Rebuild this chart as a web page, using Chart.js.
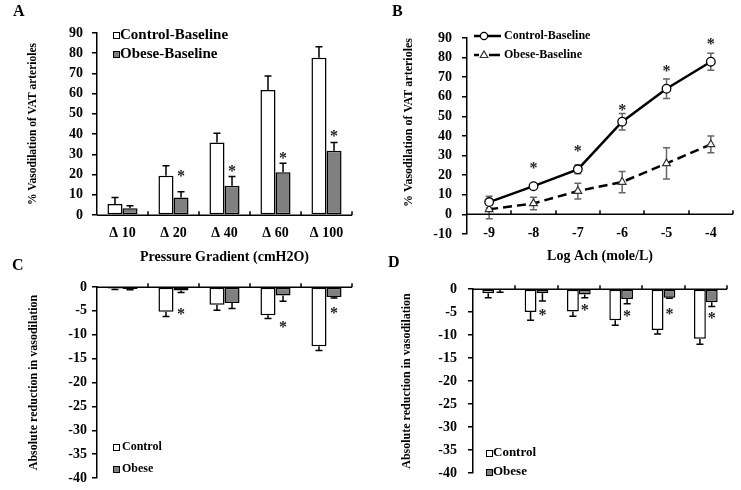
<!DOCTYPE html>
<html><head><meta charset="utf-8">
<script src="https://cdn.jsdelivr.net/npm/chart.js@4.4.1/dist/chart.umd.min.js"></script>
<style>
html,body{margin:0;padding:0;background:#fff;}
#wrap{position:relative;width:741px;height:490px;overflow:hidden;background:#fff;}
canvas{position:absolute;}
.lbl{position:absolute;font:bold 16px 'Liberation Serif','Times New Roman',serif;line-height:16px;color:#000;}
</style></head><body>
<div id="wrap">
<canvas id="cA" width="370" height="270" style="left:0;top:0"></canvas>
<canvas id="cB" width="371" height="270" style="left:370px;top:0"></canvas>
<canvas id="cC" width="370" height="220" style="left:0;top:270px"></canvas>
<canvas id="cD" width="371" height="221" style="left:370px;top:270px"></canvas>
<div class="lbl" style="left:13px;top:3px">A</div>
<div class="lbl" style="left:392px;top:3px">B</div>
<div class="lbl" style="left:12px;top:257px">C</div>
<div class="lbl" style="left:388px;top:254px">D</div>
</div>
<script>
// ---------- data ----------
const pressureLabels = ['Δ 10', 'Δ 20', 'Δ 40', 'Δ 60', 'Δ 100'];
const achLabels = ['-9', '-8', '-7', '-6', '-5', '-4'];

const aControl = [5.4, 19.4, 35.8, 61.8, 77.8];
const aControlErr = [3.2, 5.0, 4.6, 6.9, 5.4];
const aObese = [3.3, 8.6, 14.5, 21.1, 31.8];
const aObeseErr = [1.3, 2.9, 4.5, 4.5, 4.1];
const aStars = [null, 20.7, 23.1, 29.7, 40.6];

const bControl = [6.3, 14.4, 23.0, 47.3, 64.1, 77.9];
const bControlErr = [3.0, 1.0, 2.2, 4.2, 5.0, 4.3];
const bObese = [2.6, 5.6, 11.9, 16.5, 26.0, 35.7];
const bObeseErr = [4.8, 3.2, 4.0, 5.4, 8.0, 4.3];
const bStars = [null, 25.0, 33.7, 55.0, 74.5, 88.4];

const cControl = [-0.3, -5.2, -3.7, -5.9, -12.4];
const cControlErr = [0.2, 1.0, 1.15, 0.7, 0.9];
const cObese = [-0.4, -0.75, -3.35, -1.8, -2.1];
const cObeseErr = [0.15, 0.4, 1.15, 1.2, 0.2];
const cStars = [null, -5.1, null, -7.8, -4.9];

const dControl = [-0.9, -5.0, -4.9, -6.8, -8.9, -10.8];
const dControlErr = [1.0, 1.8, 1.0, 1.1, 0.9, 1.2];
const dObese = [-0.1, -0.9, -1.2, -2.2, -1.9, -2.9];
const dObeseErr = [0.6, 1.7, 0.7, 1.0, 0.1, 0.9];
const dStars = [null, -5.1, -4.0, -5.2, -4.7, -5.7];

// ---------- styling ----------
const SERIF = "'Liberation Serif', 'Times New Roman', serif";
Chart.defaults.font.family = SERIF;
Chart.defaults.font.weight = 'bold';
Chart.defaults.color = '#000';
const GRAY = '#808080';

const panelPlugin = {
  id: 'panel',
  beforeDatasetsDraw(chart) {
    const o = chart.options.plugins.panel; if (!o) return;
    const ctx = chart.ctx, y = chart.scales.y;
    chart.data.datasets.forEach((ds, di) => {
      if (!ds.errors) return;
      const meta = chart.getDatasetMeta(di);
      ctx.save();
      ctx.strokeStyle = ds.errorColor || '#000';
      ctx.lineWidth = ds.errorWidth || 1.5;
      ctx.setLineDash([]);
      meta.data.forEach((el, i) => {
        const v = ds.data[i], e = ds.errors[i];
        if (e == null) return;
        const px = el.x, cap = ds.errorCap || 3.5;
        let y1, y2;
        if (ds.errorMode === 'both') {
          y1 = y.getPixelForValue(v - e); y2 = y.getPixelForValue(v + e);
        } else {
          y1 = y.getPixelForValue(v); y2 = y.getPixelForValue(v >= 0 ? v + e : v - e);
        }
        ctx.beginPath();
        ctx.moveTo(px, y1); ctx.lineTo(px, y2);
        ctx.moveTo(px - cap, y2); ctx.lineTo(px + cap, y2);
        if (ds.errorMode === 'both') { ctx.moveTo(px - cap, y1); ctx.lineTo(px + cap, y1); }
        ctx.stroke();
      });
      ctx.restore();
    });
  },
  afterDatasetsDraw(chart) {
    const o = chart.options.plugins.panel; if (!o) return;
    const ctx = chart.ctx, x = chart.scales.x, y = chart.scales.y, ca = chart.chartArea;
    ctx.save();
    // zero axis line with category boundary ticks
    const y0 = Math.round(y.getPixelForValue(0)) + 0.25;
    ctx.strokeStyle = '#000'; ctx.lineWidth = 1.5; ctx.setLineDash([]);
    ctx.beginPath(); ctx.moveTo(ca.left, y0); ctx.lineTo(ca.right, y0);
    const n = chart.data.labels.length;
    const w = x.getPixelForValue(1) - x.getPixelForValue(0);
    for (let i = 0; i < n; i++) {
      const bx = Math.round(x.getPixelForValue(i) + w / 2);
      ctx.moveTo(bx, y0); ctx.lineTo(bx, y0 - 4);
    }
    ctx.stroke();
    // significance stars
    if (o.stars) {
      const meta = chart.getDatasetMeta(o.starDataset);
      ctx.fillStyle = '#222'; ctx.font = 'bold 16px ' + SERIF;
      ctx.textAlign = 'center'; ctx.textBaseline = 'alphabetic';
      o.stars.forEach((s, i) => {
        if (s == null) return;
        ctx.fillText('*', meta.data[i].x, y.getPixelForValue(s) + 8);
      });
    }
    // legend
    const lg = o.legend;
    if (lg) {
      chart.data.datasets.forEach((ds, i) => {
        const cy = lg.y + i * lg.dy;
        if (lg.kind === 'box') {
          ctx.fillStyle = ds.backgroundColor; ctx.strokeStyle = '#000'; ctx.lineWidth = 1;
          ctx.fillRect(lg.x, cy - 3, 6, 6);
          ctx.strokeRect(lg.x + 0.5, cy - 2.5, 6, 6);
        } else {
          ctx.strokeStyle = '#000'; ctx.lineWidth = 2.5;
          ctx.beginPath();
          if (ds.borderDash && ds.borderDash.length) {
            ctx.moveTo(lg.x, cy); ctx.lineTo(lg.x + 5, cy);
            ctx.moveTo(lg.x + 15, cy); ctx.lineTo(lg.x + 26, cy);
          } else {
            ctx.moveTo(lg.x, cy); ctx.lineTo(lg.x + 27, cy);
          }
          ctx.stroke();
          const mx = lg.x + 10;
          ctx.fillStyle = '#fff'; ctx.lineWidth = 1.2; ctx.strokeStyle = ds.pointBorderColor || '#000';
          ctx.beginPath();
          if (ds.pointStyle === 'triangle') {
            ctx.moveTo(mx, cy - 4); ctx.lineTo(mx + 3.8, cy + 2.5); ctx.lineTo(mx - 3.8, cy + 2.5); ctx.closePath();
          } else {
            ctx.arc(mx, cy, 3.6, 0, Math.PI * 2);
          }
          ctx.fill(); ctx.stroke();
        }
        ctx.fillStyle = '#000'; ctx.font = 'bold ' + lg.size + 'px ' + SERIF;
        ctx.textAlign = 'left'; ctx.textBaseline = 'middle';
        ctx.fillText(ds.label, lg.textX, cy);
      });
    }
    ctx.restore();
  }
};

function yAxis(min, max, step, title, titlePad, tickPad, width, titleSize, titleAlign) {
  return {
    min, max,
    ticks: { stepSize: step, padding: tickPad, color: '#000', font: { size: 14, weight: 'bold', lineHeight: 1 } },
    grid: { display: true, drawOnChartArea: false, drawTicks: true, tickLength: 5, color: '#000', lineWidth: 1.5 },
    border: { display: true, color: '#000', width: 1.5 },
    title: { display: true, text: title, color: '#000', align: titleAlign || 'center',
             font: { size: titleSize || 12, weight: 'bold' }, padding: { top: titlePad, bottom: 0 } },
    afterFit(s) { s.width = width; }
  };
}
function xAxisShown(title, tickPad, titlePadBottom, height, mirror) {
  return {
    type: 'category', offset: true,
    grid: { display: false, drawTicks: false },
    border: { display: false },
    ticks: { padding: tickPad, mirror: !!mirror, color: '#000', autoSkip: false, maxRotation: 0, font: { size: 14, weight: 'bold' } },
    title: { display: true, text: title, color: '#000', font: { size: 14, weight: 'bold' }, padding: { top: 0, bottom: titlePadBottom } },
    afterFit(s) { s.height = height; }
  };
}
const baseOpts = { responsive: false, animation: false, events: [] };
const barDs = (label, data, errors, fill) => ({
  label, data, errors, backgroundColor: fill, borderColor: '#000', borderWidth: 1.5, borderSkipped: false,
  errorColor: '#000', errorWidth: 1.5, errorCap: 3.5
});

// ---------- A ----------
new Chart(document.getElementById('cA'), {
  type: 'bar',
  data: {
    labels: pressureLabels,
    datasets: [
      barDs('Control-Baseline', aControl, aControlErr, '#ffffff'),
      barDs('Obese-Baseline', aObese, aObeseErr, GRAY)
    ]
  },
  options: Object.assign({}, baseOpts, {
    layout: { padding: { left: 24, right: 18, top: 33, bottom: 0 } },
    datasets: { bar: { categoryPercentage: 0.59, barPercentage: 1 } },
    scales: {
      x: xAxisShown('Pressure Gradient (cmH2O)', 10, 4, 55, false),
      y: yAxis(0, 90, 10, '% Vasodilation of VAT arterioles', 2, 9, 73, 11.5)
    },
    plugins: {
      legend: { display: false }, tooltip: { enabled: false },
      panel: { stars: aStars, starDataset: 1, legend: { kind: 'box', x: 113, textX: 120, y: 35, dy: 19, size: 15 } }
    }
  }),
  plugins: [panelPlugin]
});

// ---------- B ----------
new Chart(document.getElementById('cB'), {
  type: 'line',
  data: {
    labels: achLabels,
    datasets: [
      { label: 'Control-Baseline', data: bControl, errors: bControlErr, errorMode: 'both', errorColor: '#666', errorWidth: 1.5, errorCap: 3.5,
        borderColor: '#000', borderWidth: 2.5, pointStyle: 'circle', pointRadius: 4.3, pointBackgroundColor: '#fff', pointBorderColor: '#000', pointBorderWidth: 1.3, tension: 0 },
      { label: 'Obese-Baseline', data: bObese, errors: bObeseErr, errorMode: 'both', errorColor: '#666', errorWidth: 1.5, errorCap: 3.5,
        borderColor: '#000', borderWidth: 2.5, borderDash: [9, 5], pointStyle: 'triangle', pointRadius: 4.5, pointBackgroundColor: '#fff', pointBorderColor: '#333', pointBorderWidth: 1.2, tension: 0 }
    ]
  },
  options: Object.assign({}, baseOpts, {
    layout: { padding: { left: 30, right: 8, top: 38, bottom: 0 } },
    scales: {
      x: xAxisShown('Log Ach (mole/L)', -8, 5, 36, true),
      y: yAxis(-10, 90, 10, '% Vasodilation of VAT arterioles', 2, 10, 67, 12, 'end')
    },
    plugins: {
      legend: { display: false }, tooltip: { enabled: false },
      panel: { stars: bStars, starDataset: 0, legend: { kind: 'line', x: 104, textX: 134, y: 36, dy: 19, size: 12 } }
    }
  }),
  plugins: [panelPlugin]
});

// ---------- C ----------
new Chart(document.getElementById('cC'), {
  type: 'bar',
  data: {
    labels: pressureLabels,
    datasets: [
      barDs('Control', cControl, cControlErr, '#ffffff'),
      barDs('Obese', cObese, cObeseErr, GRAY)
    ]
  },
  options: Object.assign({}, baseOpts, {
    layout: { padding: { left: 24, right: 18, top: 17, bottom: 8 } },
    datasets: { bar: { categoryPercentage: 0.59, barPercentage: 1 } },
    scales: {
      x: { type: 'category', display: false, offset: true },
      y: yAxis(-40, 0, 5, 'Absolute reduction in vasodilation', 3, 5, 73, 12)
    },
    plugins: {
      legend: { display: false }, tooltip: { enabled: false },
      panel: { stars: cStars, starDataset: 1, legend: { kind: 'box', x: 113, textX: 122, y: 177, dy: 22, size: 12 } }
    }
  }),
  plugins: [panelPlugin]
});

// ---------- D ----------
new Chart(document.getElementById('cD'), {
  type: 'bar',
  data: {
    labels: achLabels,
    datasets: [
      barDs('Control', dControl, dControlErr, '#ffffff'),
      barDs('Obese', dObese, dObeseErr, GRAY)
    ]
  },
  options: Object.assign({}, baseOpts, {
    layout: { padding: { left: 28, right: 14, top: 19, bottom: 7 } },
    datasets: { bar: { categoryPercentage: 0.56, barPercentage: 1 } },
    scales: {
      x: { type: 'category', display: false, offset: true },
      y: yAxis(-40, 0, 5, 'Absolute reduction in vasodilation', 2, 11, 75, 12)
    },
    plugins: {
      legend: { display: false }, tooltip: { enabled: false },
      panel: { stars: dStars, starDataset: 1, legend: { kind: 'box', x: 116, textX: 123, y: 183, dy: 19, size: 13 } }
    }
  }),
  plugins: [panelPlugin]
});
</script>
</body></html>
